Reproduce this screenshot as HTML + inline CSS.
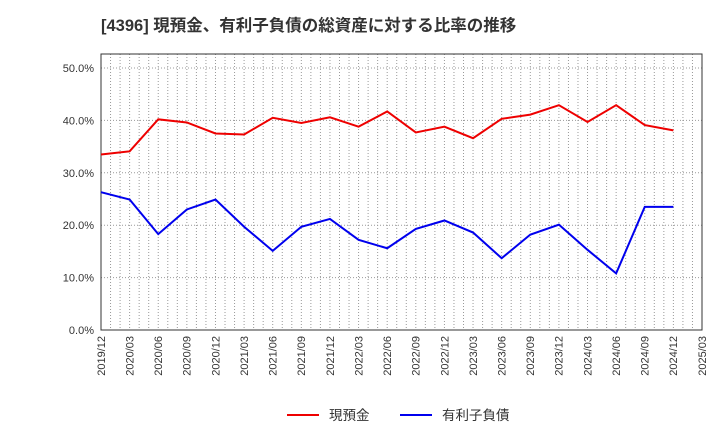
<!DOCTYPE html>
<html><head><meta charset="utf-8"><style>
body{margin:0;background:#fff;font-family:"Liberation Sans","Noto Sans CJK JP",sans-serif;}
</style></head><body>
<svg id="c" width="720" height="440" xmlns="http://www.w3.org/2000/svg">
<text x="101" y="31" font-size="16.5" font-weight="bold" fill="#333" font-family="Liberation Sans, Noto Sans CJK JP, sans-serif">[4396]  現預金、有利子負債の総資産に対する比率の推移</text>
</svg>
<script>
const categories=["2019/12","2020/03","2020/06","2020/09","2020/12","2021/03","2021/06","2021/09","2021/12","2022/03","2022/06","2022/09","2022/12","2023/03","2023/06","2023/09","2023/12","2024/03","2024/06","2024/09","2024/12","2025/03"];
const cashValues=[33.5,34.1,40.2,39.6,37.5,37.3,40.5,39.5,40.6,38.8,41.7,37.7,38.8,36.6,40.3,41.1,42.9,39.7,42.9,39.1,38.1];
const debtValues=[26.3,24.9,18.3,23.0,24.9,19.7,15.1,19.7,21.2,17.2,15.6,19.3,20.9,18.6,13.7,18.2,20.1,15.3,10.8,23.5,23.5];
const yTicks=[0,10,20,30,40,50];
const yTickLabels=["0.0%","10.0%","20.0%","30.0%","40.0%","50.0%"];
const svg=document.getElementById('c');const NS="http://www.w3.org/2000/svg";
const L=101,R=702,T=54,B=330,yMax=52.67;
const x=i=>L+(R-L)*i/(categories.length-1);
const y=v=>B-(B-T)*v/yMax;
function mk(t,a){const e=document.createElementNS(NS,t);for(const k in a)e.setAttribute(k,a[k]);svg.appendChild(e);return e;}
for(let m=1;m<(categories.length-1)*3;m++){
 const gx=x(m/3);
 const g=mk('line',{x1:gx,x2:gx,y1:T,y2:B,stroke:'#999','stroke-dasharray':'1,2','stroke-width':1});
 
 
}
categories.forEach((c,i)=>{
 const tx=x(i),ty=B+6;
 const t=mk('text',{x:tx,y:ty,'font-size':11,fill:'#333','text-anchor':'end',transform:`rotate(-90 ${tx} ${ty})`,dy:'0.35em'});
 t.textContent=c;
 
 
});
yTicks.forEach((v,i)=>{
 const g=mk('line',{x1:L,x2:R,y1:y(v),y2:y(v),stroke:'#999','stroke-dasharray':'1,2','stroke-width':1});
 
 
 const t=mk('text',{x:L-7,y:y(v)+4,'font-size':11,fill:'#333','text-anchor':'end'});
 t.textContent=yTickLabels[i];
 
 
});
const frame=mk('rect',{x:L,y:T,width:R-L,height:B-T,fill:'none',stroke:'#333','stroke-width':1});


function line(vals,col,name){
 const p=mk('polyline',{points:vals.map((v,i)=>x(i)+','+y(v)).join(' '),fill:'none',stroke:col,'stroke-width':2});
 
 
}
line(cashValues,'#e00','cash-line');
line(debtValues,'#00e','debt-line');
const leg=[["現預金","#e00",287],["有利子負債","#00e",400]];
leg.forEach(([n,c,lx])=>{
 const l=mk('line',{x1:lx,x2:lx+32,y1:415,y2:415,stroke:c,'stroke-width':2});
 
 
 const t=mk('text',{x:lx+42,y:420,'font-size':13.5,fill:'#333'});
 t.textContent=n;
 
 
});
</script>
</body></html>
